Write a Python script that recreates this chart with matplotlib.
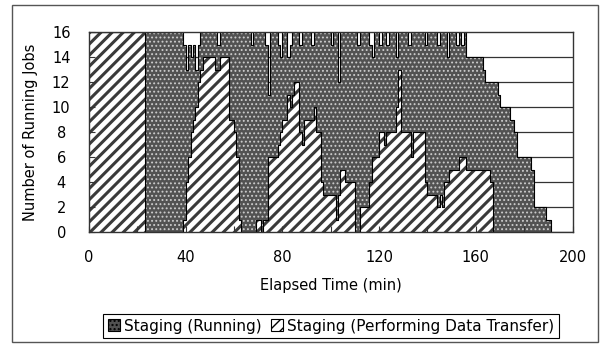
import matplotlib.pyplot as plt
import numpy as np
from matplotlib.patches import Rectangle, Patch

plt.rcParams['font.family'] = 'DejaVu Sans'
plt.rcParams['font.size'] = 10.5

# jobs per minute, 0..199 min
minutes = np.arange(0, 200)
transfer = [16, 16, 16, 16, 16, 16, 16, 16, 16, 16, 16, 16, 16, 16, 16, 16, 16, 16, 16, 16,
            16, 16, 16, 0, 0, 0, 0, 0, 0, 0, 0, 0, 0, 0, 0, 0, 0, 0, 0, 1,
            4, 6, 8, 9, 10, 12, 13, 14, 14, 14, 14, 14, 13, 13, 14, 14, 14, 14, 9, 9,
            8, 6, 1, 0, 0, 0, 0, 0, 0, 1, 1, 0, 1, 1, 6, 6, 6, 6, 7, 8,
            9, 9, 11, 10, 11, 12, 12, 8, 7, 9, 9, 9, 9, 10, 8, 8, 4, 3, 3, 3,
            3, 3, 1, 3, 5, 5, 4, 4, 4, 4, 0, 0, 2, 2, 2, 2, 4, 6, 6, 6,
            8, 8, 7, 8, 8, 8, 8, 10, 13, 8, 8, 8, 8, 6, 8, 8, 8, 8, 8, 4,
            3, 3, 3, 3, 2, 3, 2, 4, 4, 5, 5, 5, 5, 6, 6, 6, 5, 5, 5, 5,
            5, 5, 5, 5, 5, 5, 4, 0, 0, 0, 0, 0, 0, 0, 0, 0, 0, 0, 0, 0,
            0, 0, 0, 0, 0, 0, 0, 0, 0, 0, 0, 0, 0, 0, 0, 0, 0, 0, 0, 0]
running = [0, 0, 0, 0, 0, 0, 0, 0, 0, 0, 0, 0, 0, 0, 0, 0, 0, 0, 0, 0,
           0, 0, 0, 16, 16, 16, 16, 16, 16, 16, 16, 16, 16, 16, 16, 16, 16, 16, 16, 14,
           9, 9, 6, 6, 3, 3, 3, 2, 2, 2, 2, 2, 3, 2, 2, 2, 2, 2, 7, 7,
           8, 10, 15, 16, 16, 16, 16, 15, 16, 15, 15, 16, 15, 14, 5, 10, 10, 10, 8, 6,
           7, 7, 3, 5, 5, 4, 4, 7, 9, 7, 7, 7, 6, 6, 8, 8, 12, 13, 13, 13,
           12, 13, 15, 9, 11, 11, 12, 12, 12, 12, 16, 15, 14, 14, 14, 14, 11, 8, 10, 10,
           7, 8, 9, 7, 8, 8, 8, 4, 3, 8, 8, 8, 7, 10, 8, 8, 8, 8, 8, 11,
           13, 13, 13, 13, 13, 13, 14, 12, 10, 11, 11, 11, 10, 10, 9, 10, 9, 9, 9, 9,
           9, 9, 9, 8, 7, 7, 8, 12, 12, 11, 10, 10, 10, 10, 9, 9, 8, 6, 6, 6,
           6, 6, 6, 5, 2, 2, 2, 2, 2, 1, 1, 0, 0, 0, 0, 0, 0, 0, 0, 0]

x = np.append(minutes, 200)
low = np.append(transfer, transfer[-1])
high = low + np.append(running, running[-1])

fig = plt.figure(figsize=(6.05, 3.47), dpi=100)
fig.patches.append(Rectangle((12 / 605, 1 - 342 / 347), 586 / 605, 337 / 347,
                             transform=fig.transFigure, fill=False,
                             edgecolor='#555555', lw=1.0))

ax = fig.add_axes([89 / 605, 1 - 232 / 347, 483.5 / 605, 200 / 347])

# horizontal gridlines sit behind the areas
for yv in range(2, 16, 2):
    ax.axhline(yv, color='#333333', lw=0.9, zorder=0.8)

# hatch width is picked up when each fill is made
plt.rcParams['hatch.linewidth'] = 2.2
hatched = ax.fill_between(x, 0, low, step='post', facecolor='white',
                          edgecolor='#3a3a3a', hatch='///', linewidth=0, zorder=1.6)
plt.rcParams['hatch.linewidth'] = 0.85
dotted = ax.fill_between(x, low, high, step='post', facecolor='#525252',
                         edgecolor='#cccccc', hatch='....', linewidth=0, zorder=1.7)

ax.step(x, low, where='post', color='black', lw=0.8, zorder=1.9)
ax.step(x, high, where='post', color='black', lw=0.8, zorder=1.9)

ax.set_xlim(0, 200)
ax.set_ylim(0, 16)
ax.set_xticks(range(0, 201, 40))
ax.set_xticks(range(20, 200, 40), minor=True)
ax.set_yticks(range(0, 17, 2))
ax.set_axisbelow(False)
ax.tick_params(which='both', direction='in', length=4, width=0.8, color='#333333')
ax.tick_params(axis='x', pad=13)
ax.tick_params(axis='y', pad=20)
for lbl in ax.get_yticklabels():
    lbl.set_horizontalalignment('center')
for sp in ax.spines.values():
    sp.set_color('#333333')
    sp.set_linewidth(1.0)

ax.set_xlabel('Elapsed Time (min)', labelpad=9)
ax.set_ylabel('Number of Running Jobs')
ax.yaxis.set_label_coords(-0.105, 0.5)

plt.rcParams['hatch.linewidth'] = 1.0
handles = [Patch(facecolor='#525252', edgecolor='black', hatch='....', lw=0.8),
           Patch(facecolor='white', edgecolor='black', hatch='///', lw=0.8)]
leg = fig.legend(handles, ['Staging (Running)', 'Staging (Performing Data Transfer)'],
                 loc='center', bbox_to_anchor=(331 / 605, 1 - 326 / 347), ncol=2,
                 handlelength=0.8, handleheight=0.8, handletextpad=0.25,
                 columnspacing=0.6, borderpad=0.3, fancybox=False, framealpha=1,
                 fontsize=11)
leg.get_frame().set_edgecolor('black')
leg.get_frame().set_linewidth(0.8)

fig.savefig('out.png', dpi=100)
